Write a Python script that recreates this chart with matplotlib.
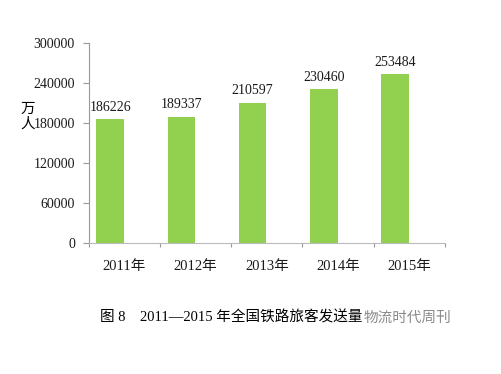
import matplotlib
matplotlib.use("Agg")
import matplotlib.pyplot as plt
import numpy as np

plt.rcParams['font.family'] = ['Liberation Serif', 'Noto Sans CJK SC']

years = ["2011年", "2012年", "2013年", "2014年", "2015年"]
values = [186226, 189337, 210597, 230460, 253484]
yticks = [0, 60000, 120000, 180000, 240000, 300000]

fig = plt.figure(figsize=(5.02, 3.74), dpi=100)
ax = fig.add_axes([0.177, 0.350, 0.709, 0.535])

x = np.arange(len(years))
ax.bar(x - 0.2, values, width=0.39, color="#92D050", zorder=2)
for xi, v in zip(x, values):
    ax.text(xi - 0.2, v + 8000, str(v), ha="center", va="bottom", fontsize=10, color="#1a1a1a")

ax.set_xlim(-0.5, 4.5)
ax.set_ylim(0, 300000)
ax.set_yticks(yticks)
ax.set_yticklabels([str(t) for t in yticks], fontsize=10, color="#1a1a1a")
ax.set_xticks(np.arange(-0.5, 5, 1))
ax.set_xticklabels([])
ax.set_xticks(x, minor=True)
ax.set_xticklabels(years, minor=True, fontsize=10.5, color="#1a1a1a")
ax.tick_params(axis="x", which="minor", length=0, pad=12)
ax.tick_params(axis="x", which="major", length=3, color="#999999", direction="out")
ax.tick_params(axis="y", length=4, color="#999999", direction="out", pad=6)
for s in ["top", "right"]:
    ax.spines[s].set_visible(False)
ax.spines["left"].set_color("#999999")
ax.spines["bottom"].set_color("#bbbbbb")

fig.text(0.055, 0.69, "万\n人", fontsize=10.5, ha="center", va="center",
         family=['Noto Sans CJK SC'], linespacing=1.1)

fig.text(0.200, 0.150, "图 8    2011—2015 年全国铁路旅客发送量", fontsize=10.5,
         ha="left", va="center", color="#000000")
fig.text(0.725, 0.150, "物流时代周刊", fontsize=10.5, ha="left", va="center",
         color="#8a8a8a", family=['Noto Sans CJK SC'])

fig.savefig("out.png", dpi=100)
